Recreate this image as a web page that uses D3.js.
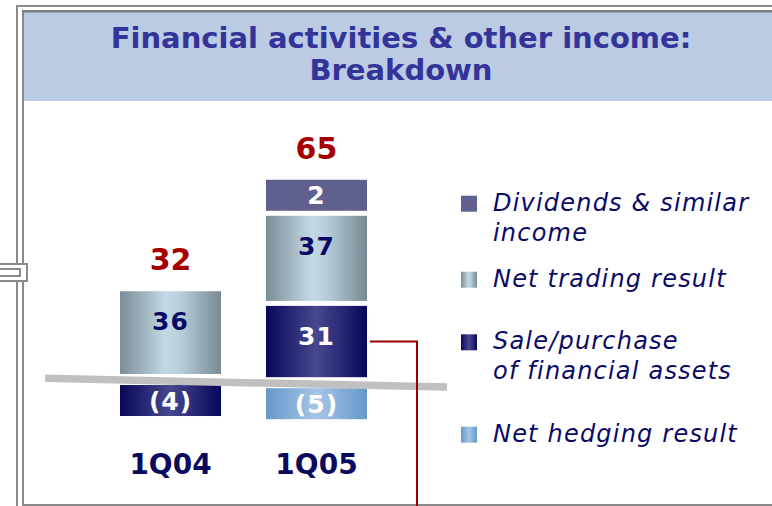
<!DOCTYPE html>
<html>
<head>
<meta charset="utf-8">
<script src="https://cdn.jsdelivr.net/npm/d3@7"></script>
<style>
  html, body { margin: 0; padding: 0; background: #ffffff; }
  svg { display: block; }
</style>
</head>
<body>
<svg id="chart" width="772" height="506"></svg>
<script>
// ---------------- DATA ----------------
const titleLines = ["Financial activities & other income:", "Breakdown"];
const categories = ["1Q04", "1Q05"];
const dividends = [null, 2];
const netTrading = [36, 37];
const salePurchase = [-4, 31];
const netHedging = [null, -5];
const totals = [32, 65];
const seriesKeys = ["dividends", "netTrading", "salePurchase", "netHedging"];
const legendLines = [
  ["Dividends & similar", "income"],
  ["Net trading result"],
  ["Sale/purchase", "of financial assets"],
  ["Net hedging result"]
];

// ---------------- SETUP ----------------
const W = 772, H = 506;
const svg = d3.select("#chart");
const FRAME = "#8a8a8a";
const seriesValues = { dividends, netTrading, salePurchase, netHedging };
const fills = {
  dividends: "#60608e",
  netTrading: "url(#gTrading)",
  salePurchase: "url(#gSale)",
  netHedging: "url(#gHedge)"
};
const labelColor = { dividends: "#ffffff", netTrading: "#0a0a66", salePurchase: "#ffffff", netHedging: "#ffffff" };

const defs = svg.append("defs");
function grad(id, stops) {
  const g = defs.append("linearGradient").attr("id", id).attr("x1", "0%").attr("x2", "100%").attr("y1", "0%").attr("y2", "0%");
  stops.forEach(s => g.append("stop").attr("offset", s[0]).attr("stop-color", s[1]));
}
grad("gTrading", [["0%", "#7b8d97"], ["45%", "#c2d9e5"], ["58%", "#bad1dd"], ["100%", "#788993"]]);
grad("gSale", [["0%", "#08085a"], ["50%", "#48488f"], ["100%", "#07075a"]]);
grad("gHedge", [["0%", "#6698ca"], ["50%", "#a6c5e5"], ["100%", "#6598cb"]]);

// ---------------- FRAME ----------------
svg.append("rect").attr("x", 24).attr("y", 12).attr("width", W - 24).attr("height", 89).attr("fill", "#bacbe3");
svg.append("rect").attr("x", 16).attr("y", 5).attr("width", 2).attr("height", H - 5).attr("fill", FRAME);
svg.append("rect").attr("x", 16).attr("y", 5).attr("width", W - 16).attr("height", 2).attr("fill", FRAME);
svg.append("rect").attr("x", 22).attr("y", 10).attr("width", 2).attr("height", H - 10).attr("fill", FRAME);
svg.append("rect").attr("x", 22).attr("y", 10).attr("width", W - 22).attr("height", 2.5).attr("fill", "#7d7d7d");
svg.append("rect").attr("x", 22).attr("y", 504).attr("width", W - 22).attr("height", 2).attr("fill", FRAME);
// left tab
svg.append("rect").attr("x", -5).attr("y", 264).attr("width", 32).attr("height", 17)
  .attr("fill", "#ffffff").attr("stroke", FRAME).attr("stroke-width", 2);
svg.append("rect").attr("x", -5).attr("y", 269).attr("width", 25).attr("height", 7)
  .attr("fill", "#ffffff").attr("stroke", FRAME).attr("stroke-width", 2);

// ---------------- TITLE ----------------
svg.append("text")
  .attr("x", 401).attr("y", 48)
  .attr("text-anchor", "middle")
  .attr("font-family", "DejaVu Sans, Verdana, sans-serif")
  .attr("font-weight", "bold").attr("font-size", 29)
  .attr("fill", "#333399")
  .selectAll("tspan").data(titleLines).join("tspan")
  .attr("x", 401).attr("dy", (d, i) => i === 0 ? 0 : 32)
  .text(d => d);

// ---------------- SCALES ----------------
const x = d3.scaleBand().domain(categories).range([47, 440]).paddingInner(0.308).paddingOuter(0.5);
const h = d3.scaleLinear().domain([0, 10]).range([0, 23]);
const minH = 31, gap = 5;
// slanted zero line
const zx0 = 45, zx1 = 447, zy0 = 378.3, slope = 0.0217;
const zeroY = px => zy0 + (px - zx0) * slope;

const fmt = v => v < 0 ? "(" + Math.abs(v) + ")" : String(v);

const segments = [], totalPos = [];
categories.forEach((cat, i) => {
  const cx = x(cat) + x.bandwidth() / 2;
  const base = zeroY(cx);
  let posY = base - 7, negY = base + 4;
  ["salePurchase", "netTrading", "dividends"].forEach(k => {
    const v = seriesValues[k][i];
    if (v != null && v > 0) {
      const hh = Math.max(h(v), minH);
      segments.push({ key: k, cat, v, y: posY - hh, hh });
      posY = posY - hh - gap;
    }
  });
  ["salePurchase", "netHedging"].forEach(k => {
    const v = seriesValues[k][i];
    if (v != null && v < 0) {
      const hh = Math.max(h(-v), minH);
      segments.push({ key: k, cat, v, y: negY, hh });
      negY = negY + hh + gap;
    }
  });
  totalPos.push({ cat, cx, top: posY + gap, total: totals[i] });
});

// ---------------- BARS ----------------
const gBars = svg.append("g");
gBars.selectAll("rect").data(segments).join("rect")
  .attr("x", d => x(d.cat)).attr("y", d => d.y)
  .attr("width", x.bandwidth()).attr("height", d => d.hh)
  .attr("fill", d => fills[d.key]);

gBars.selectAll("text.val").data(segments).join("text")
  .attr("class", "val")
  .attr("x", d => x(d.cat) + x.bandwidth() / 2)
  .attr("y", d => d.y + Math.min(d.hh / 2 + 9, 39))
  .attr("text-anchor", "middle")
  .attr("font-family", "DejaVu Sans, Verdana, sans-serif")
  .attr("font-weight", "bold").attr("font-size", 25)
  .attr("letter-spacing", 1)
  .attr("fill", d => labelColor[d.key])
  .text(d => fmt(d.v));

// totals
svg.selectAll("text.total").data(totalPos).join("text")
  .attr("class", "total")
  .attr("x", d => d.cx).attr("y", d => d.top - 21)
  .attr("text-anchor", "middle")
  .attr("font-family", "DejaVu Sans, Verdana, sans-serif")
  .attr("font-weight", "bold").attr("font-size", 30)
  .attr("fill", "#a50000")
  .text(d => d.total);

// category labels
svg.selectAll("text.cat").data(categories).join("text")
  .attr("class", "cat")
  .attr("x", d => x(d) + x.bandwidth() / 2).attr("y", 474)
  .attr("text-anchor", "middle")
  .attr("font-family", "DejaVu Sans, Verdana, sans-serif")
  .attr("font-weight", "bold").attr("font-size", 28)
  .attr("fill", "#0a0a5e")
  .text(d => d);

// zero line (drawn over bars)
svg.append("line")
  .attr("x1", zx0).attr("y1", zeroY(zx0)).attr("x2", zx1).attr("y2", zeroY(zx1))
  .attr("stroke", "#c0c0c0").attr("stroke-width", 7.5);

// connector from Sale/purchase 1Q05
const conn = segments.find(d => d.key === "salePurchase" && d.cat === "1Q05");
const cy = conn.y + conn.hh / 2;
svg.append("path")
  .attr("d", `M${x("1Q05") + x.bandwidth() + 3},${cy} H417 V${H}`)
  .attr("fill", "none").attr("stroke", "#9b0000").attr("stroke-width", 2);

// ---------------- LEGEND ----------------
const legendTop = [210.7, 286.7, 349.3, 441.7];
const lg = svg.append("g");
seriesKeys.forEach((k, i) => {
  const by = legendTop[i];
  lg.append("rect").attr("x", 461).attr("y", by - 15).attr("width", 16).attr("height", 16)
    .attr("fill", fills[k]);
  const t = lg.append("text")
    .attr("x", 493).attr("y", by)
    .attr("font-family", "DejaVu Sans, Verdana, sans-serif")
    .attr("font-style", "italic").attr("font-size", 24)
    .attr("letter-spacing", 1.2)
    .attr("fill", "#0a0a66");
  t.selectAll("tspan").data(legendLines[i]).join("tspan")
    .attr("x", 493).attr("dy", (d, j) => j === 0 ? 0 : 30)
    .text(d => d);
});
</script>
</body>
</html>
